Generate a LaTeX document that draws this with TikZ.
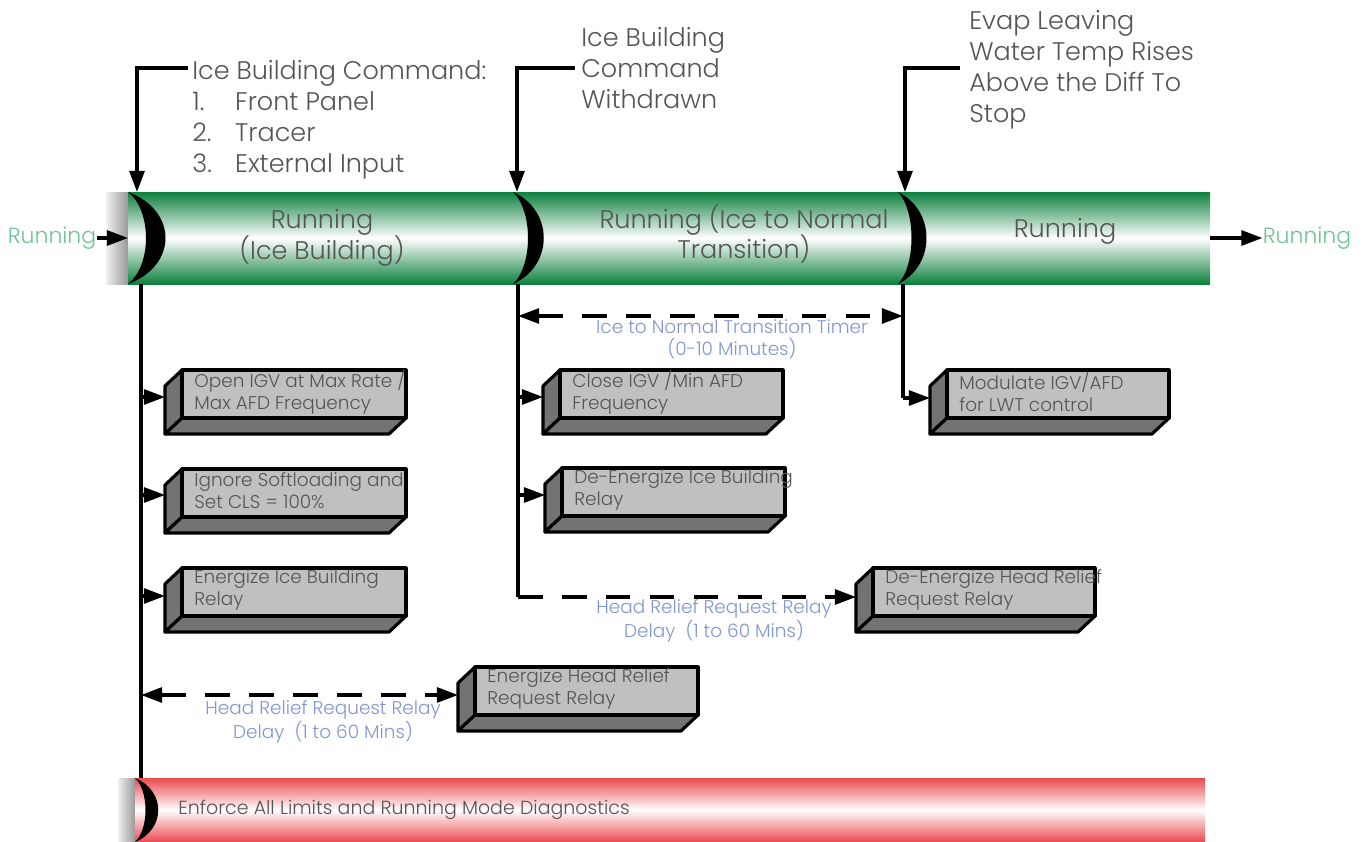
\documentclass[tikz,border=0pt]{standalone}
\usepackage{fontspec}
\IfFontExistsTF{Poppins Light}{\setmainfont{Poppins Light}}{\setmainfont{Poppins}}
\usetikzlibrary{arrows.meta,calc}
\definecolor{gdark}{RGB}{14,128,62}
\definecolor{rdark}{RGB}{234,74,80}
\definecolor{runcol}{RGB}{110,196,150}
\definecolor{bluecol}{RGB}{130,150,210}
\definecolor{txtgray}{RGB}{85,85,85}
\definecolor{facegray}{RGB}{192,192,192}
\definecolor{sidegray}{RGB}{115,115,115}
\tikzset{
  ln/.style={line width=1.8pt},
  arr/.style={ln,-{Triangle[length=12pt,width=8.5pt]}},
  darr/.style={ln,{Triangle[length=12pt,width=8.5pt]}-{Triangle[length=12pt,width=8.5pt]},dash pattern=on 14pt off 11pt},
  dar/.style={ln,-{Triangle[length=12pt,width=8.5pt]},dash pattern=on 14pt off 11pt},
  toplabel/.style={inner sep=0pt,anchor=north west,align=left,text=txtgray,font=\fontsize{14.5}{17.6}\selectfont},
  bartext/.style={inner sep=0pt,align=center,text=txtgray,font=\fontsize{14.5}{17.6}\selectfont},
  boxtext/.style={inner sep=0pt,anchor=west,align=left,text=txtgray,font=\fontsize{10.5}{12.5}\selectfont},
  bluetext/.style={inner sep=0pt,align=center,text=bluecol,font=\fontsize{10.5}{12.5}\selectfont},
  runtext/.style={inner sep=0pt,text=runcol,font=\fontsize{12.5}{15}\selectfont},
  boxline/.style={draw=black,line width=1.8pt,line join=round},
}
% #1 name, #2 x, #3 y, #4 width, #5 arrow y, #6 text
\newcommand\tdbox[6]{%
  \path[boxline,fill=sidegray] (#2,#3) -- (#2,#3+48) -- (#2-17,#3+64) -- (#2-17,#3+16) -- cycle;
  \path[boxline,fill=sidegray] (#2,#3+48) -- (#2+#4,#3+48) -- (#2+#4-17,#3+64) -- (#2-17,#3+64) -- cycle;
  \path[boxline,fill=facegray] (#2,#3) rectangle (#2+#4,#3+48);
  \node[boxtext] (#1) at (#2+12,#3+22) {#6};
  \coordinate (#1in) at (#2-17,#5);
}
% #1 x, #2 ytop, #3 ybot, #4 outer d, #5 inner d
\newcommand\crescent[5]{%
  \fill[black] (#1,#2) .. controls (#1+#4,#2+0.2*#3-0.2*#2) and (#1+#4,#3-0.2*#3+0.2*#2) .. (#1,#3)
     .. controls (#1+#5,#3-0.2*#3+0.2*#2) and (#1+#5,#2+0.2*#3-0.2*#2) .. cycle;
}
\begin{document}
\begin{tikzpicture}[x=0.02cm,y=-0.02cm]
\useasboundingbox (0,0) rectangle (1367,842);
\fill[white] (0,0) rectangle (1367,842);

% green bar
\shade[left color=gray!12, right color=gray!80] (106,192) rectangle (128,284);
\shade[top color=gdark, bottom color=gdark, middle color=white] (128,192) rectangle (1210,284);
% red bar
\shade[left color=gray!12, right color=gray!80] (118,778) rectangle (135,842);
\shade[top color=rdark, bottom color=rdark, middle color=white] (135,778) rectangle (1205,842);

% crescents
\crescent{128}{192}{284}{50}{24}
\crescent{513}{192}{284}{41}{20}
\crescent{898}{192}{284}{38}{18}
\crescent{135}{778}{842}{31}{14}

% bar texts
\node[bartext] (s1) at (322,238) {Running\\(Ice Building)};
\node[bartext] (s2) at (744,234) {Running (Ice to Normal\\Transition)};
\node[bartext] (s3) at (1065,231) {Running};
\node[inner sep=0pt,anchor=west,text=txtgray,font=\fontsize{10.8}{13}\selectfont] (s4) at (178,810) {Enforce All Limits and Running Mode Diagnostics};

% side running labels
\node[runtext] (runL) at (52,238) {Running};
\node[runtext] (runR) at (1307,238) {Running};
\coordinate (barL) at (128,238);
\coordinate (barR) at (1210,238);
\draw[arr] (runL.east) -- (barL);
\draw[arr] (barR) -- (runR.west);

% top labels and hooks
\node[toplabel] (l1) at (192,60) {Ice Building Command:\\\makebox[24.4pt][l]{1.}Front Panel\\\makebox[24.4pt][l]{2.}Tracer\\\makebox[24.4pt][l]{3.}External Input};
\node[toplabel] (l2) at (581,27) {Ice Building\\Command\\Withdrawn};
\node[toplabel] (l3) at (969,10) {Evap Leaving\\Water Temp Rises\\Above the Diff To\\Stop};
\coordinate (h1e) at (188,68); \coordinate (h1) at (137,68); \coordinate (h1b) at (137,192);
\coordinate (h2e) at (575,68); \coordinate (h2) at (517,68); \coordinate (h2b) at (517,192);
\coordinate (h3e) at (960,68); \coordinate (h3) at (905,68); \coordinate (h3b) at (905,192);
\draw[arr] (h1e) -- (h1) -- (h1b);
\draw[arr] (h2e) -- (h2) -- (h2b);
\draw[arr] (h3e) -- (h3) -- (h3b);

% boxes
\tdbox{b1}{182}{370}{224}{397}{Open IGV at Max Rate /\\Max AFD Frequency}
\tdbox{b2}{182}{469}{224}{495}{Ignore Softloading and\\Set CLS = 100\%}
\tdbox{b3}{182}{568}{224}{596}{Energize Ice Building\\Relay}
\tdbox{b4}{475}{667}{223}{695}{Energize Head Relief\\Request Relay}
\tdbox{b5}{560}{370}{223}{397}{Close IGV /Min AFD\\Frequency}
\tdbox{b6}{562}{468}{223}{495}{De-Energize Ice Building\\Relay}
\tdbox{b7}{873}{568}{222}{597}{De-Energize Head Relief\\Request Relay}
\tdbox{b8}{947}{370}{222}{398}{Modulate IGV/AFD\\for LWT control}

% trunks
\coordinate (t1top) at (141,284); \coordinate (t1bot) at (141,778);
\coordinate (t2top) at (518,284); \coordinate (t2bot) at (518,597);
\coordinate (t3top) at (903,284); \coordinate (t3bot) at (903,398);
\draw[ln] (t1top) -- (t1bot);
\draw[ln] (t2top) -- (t2bot);
\draw[ln] (t3top) -- (t3bot);

\draw[arr] (t1top |- b1in) -- (b1in);
\draw[arr] (t1top |- b2in) -- (b2in);
\draw[arr] (t1top |- b3in) -- (b3in);
\draw[darr] (t1top |- b4in) -- (b4in);
\draw[arr] (t2top |- b5in) -- (b5in);
\draw[arr] (t2top |- b6in) -- (b6in);
\draw[dar] (t2bot) -- (b7in);
\draw[arr] (t3bot) -- (b8in);
\coordinate (tm1) at (518,316); \coordinate (tm2) at (903,316);
\draw[darr] (tm1) -- (tm2);

% blue labels
\node[bluetext] (d1) at (732,339) {Ice to Normal Transition Timer\\(0-10 Minutes)};
\node[bluetext] (d2) at (714,621) {Head Relief Request Relay\\Delay\ \ (1 to 60 Mins)};
\node[bluetext] (d3) at (323,722) {Head Relief Request Relay\\Delay\ \ (1 to 60 Mins)};
\end{tikzpicture}
\end{document}
